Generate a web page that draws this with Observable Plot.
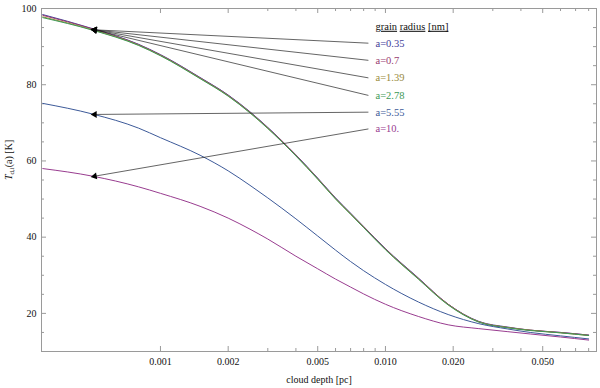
<!DOCTYPE html>
<html>
<head>
<meta charset="utf-8">
<script src="https://cdn.jsdelivr.net/npm/d3@7"></script>
<script src="https://cdn.jsdelivr.net/npm/@observablehq/plot@0.6"></script>
<style>
  html, body { margin: 0; padding: 0; background: #fff; }
  #chart { width: 600px; height: 388px; }
</style>
</head>
<body>
<div id="chart"></div>
<script>
// ---- data ----
const depth = [0.0003, 0.0005, 0.0008, 0.001, 0.0015, 0.002, 0.0025, 0.003, 0.004, 0.005, 0.006, 0.007, 0.008, 0.01, 0.014, 0.019, 0.026, 0.035, 0.044, 0.06, 0.08];
const radii = ["0.35", "0.7", "1.39", "2.78", "5.55", "10."];
const T_035 = [98.4, 94.7, 90.6, 87.9, 81.9, 77.3, 72.9, 68.8, 61.6, 55.5, 50.3, 46.3, 42.8, 37.0, 29.3, 22.4, 17.9, 16.4, 15.6, 15.0, 14.3];
const T_07  = [98.2, 94.6, 90.5, 87.8, 81.8, 77.2, 72.8, 68.7, 61.5, 55.4, 50.2, 46.2, 42.7, 36.9, 29.2, 22.4, 17.8, 16.3, 15.6, 15.0, 14.3];
const T_139 = [97.8, 94.4, 90.4, 87.7, 81.7, 77.1, 72.7, 68.6, 61.4, 55.3, 50.1, 46.1, 42.6, 36.8, 29.1, 22.3, 17.8, 16.3, 15.6, 14.9, 14.2];
const T_278 = [97.6, 94.3, 90.3, 87.6, 81.6, 77.0, 72.6, 68.5, 61.3, 55.2, 50.0, 46.0, 42.5, 36.7, 29.0, 22.2, 17.7, 16.2, 15.5, 14.9, 14.2];
const T_555 = [75.1, 72.3, 68.6, 66.1, 61.5, 57.4, 53.6, 50.3, 44.8, 40.3, 36.6, 33.6, 31.2, 27.6, 23.0, 19.7, 17.3, 15.9, 15.0, 14.1, 13.3];
const T_10  = [58.0, 56.0, 53.2, 51.5, 48.1, 45.0, 42.1, 39.5, 35.0, 31.7, 29.0, 26.9, 25.1, 22.4, 19.2, 17.0, 16.0, 15.2, 14.6, 13.8, 13.0];
const series = [T_035, T_07, T_139, T_278, T_555, T_10];
const colors = ["#3f3d99", "#993d71", "#998b3d", "#3d9956", "#3d5a99", "#993d90"];

// tick values and labels
const xMajor = [0.001, 0.002, 0.005, 0.01, 0.02, 0.05];
const xMajorLabels = ["0.001", "0.002", "0.005", "0.010", "0.020", "0.050"];
const xMinor = [0.003, 0.004, 0.006, 0.007, 0.008, 0.009, 0.03, 0.04, 0.06, 0.07, 0.08];
const yMajor = [20, 40, 60, 80, 100];
const yMajorLabels = ["20", "40", "60", "80", "100"];
const yMinor = [15, 25, 30, 35, 45, 50, 55, 65, 70, 75, 85, 90, 95];

// legend / annotation anchors (data coordinates)
const legendTitle = "grain radius [nm]";
const legendTitleY = 95.3;
const labelX = 0.00903;
const labelY = [90.9, 86.4, 81.8, 77.2, 72.8, 68.4];
const arrowStartX = 0.0084;
const arrowTipX = 0.00051;
const arrowTipY = [94.4, 94.4, 94.4, 94.4, 72.2, 56.0];

const xDomain = [0.000296, 0.0867];
const yDomain = [10, 100];

// ---- build tables ----
const rows = [];
radii.forEach((r, k) => depth.forEach((d, i) => rows.push({depth: d, T: series[k][i], radius: r})));
const legendRows = radii.map((r, k) => ({radius: r, label: "a=" + r, y: labelY[k]}));
const xTickRows = xMajor.map((v, i) => ({v, label: xMajorLabels[i]}));
const yTickRows = yMajor.map((v, i) => ({v, label: yMajorLabels[i]}));

const W = 600, H = 388, mL = 41, mR = 4, mT = 8, mB = 37;
const innerW = W - mL - mR, innerH = H - mT - mB;
// pixel helpers only for the arrowhead orientation
const sx = d3.scaleLog().domain(xDomain).range([mL, W - mR]);
const sy = d3.scaleLinear().domain(yDomain).range([H - mB, mT]);
const arrowRows = radii.map((r, k) => {
  const dx = sx(arrowTipX) - sx(arrowStartX), dy = sy(arrowTipY[k]) - sy(labelY[k]);
  return {x1: arrowStartX, y1: labelY[k], x2: arrowTipX, y2: arrowTipY[k],
          angle: Math.atan2(dy, dx) * 180 / Math.PI + 90};
});

const frameColor = "#9a9a9a";
const textColor = "#111";
const serif = "'Liberation Serif', 'DejaVu Serif', serif";

const plot = Plot.plot({
  width: W, height: H,
  marginLeft: mL, marginRight: mR, marginTop: mT, marginBottom: mB,
  style: {fontSize: "10px", background: "#fff"},
  x: {type: "log", domain: xDomain, axis: null},
  y: {domain: yDomain, axis: null},
  color: {domain: radii, range: colors},
  marks: [
    Plot.frame({stroke: frameColor}),
    // inward ticks: bottom / top
    Plot.ruleX(xMajor, {stroke: frameColor, insetTop: innerH - 5}),
    Plot.ruleX(xMinor, {stroke: frameColor, insetTop: innerH - 3}),
    Plot.ruleX(xMajor, {stroke: frameColor, insetBottom: innerH - 5}),
    Plot.ruleX(xMinor, {stroke: frameColor, insetBottom: innerH - 3}),
    // inward ticks: left / right
    Plot.ruleY(yMajor, {stroke: frameColor, insetRight: innerW - 5}),
    Plot.ruleY(yMinor, {stroke: frameColor, insetRight: innerW - 3}),
    Plot.ruleY(yMajor, {stroke: frameColor, insetLeft: innerW - 5}),
    Plot.ruleY(yMinor, {stroke: frameColor, insetLeft: innerW - 3}),
    // tick labels
    Plot.text(xTickRows, {x: "v", text: "label", frameAnchor: "bottom", lineAnchor: "top", dy: 6, fill: textColor, fontSize: 10}),
    Plot.text(yTickRows, {y: "v", text: "label", frameAnchor: "left", textAnchor: "end", dx: -5, fill: textColor, fontSize: 10}),
    // axis titles
    Plot.text(["cloud depth [pc]"], {text: d => d, frameAnchor: "bottom", lineAnchor: "middle", dy: 28, fill: textColor, fontSize: 10}),
    Plot.text(["Td,i(a) [K]"], {text: d => d, frameAnchor: "left", rotate: -90, lineAnchor: "middle", dx: -33, fill: textColor, fontSize: 10}),
    // data
    Plot.line(rows, {x: "depth", y: "T", z: "radius", stroke: "radius", strokeWidth: 1, curve: "monotone-x"}),
    // annotations
    Plot.link(arrowRows, {x1: "x1", y1: "y1", x2: "x2", y2: "y2", stroke: "#222", strokeWidth: 0.7}),
    Plot.dot(arrowRows, {x: "x2", y: "y2", symbol: "triangle", r: 2.6, fill: "#000", stroke: "none", rotate: "angle"}),
    Plot.text(legendRows, {x: labelX, y: "y", text: "label", fill: "radius", textAnchor: "start", fontSize: 10.5}),
    Plot.text([legendTitle], {x: labelX, y: legendTitleY, text: d => d, textAnchor: "start", fontSize: 10.5, fill: textColor})
  ]
});

document.getElementById("chart").appendChild(plot);

// post-process: serif font, y label with italic T and subscript, underlined legend title words
const svg = d3.select(plot);
svg.style("font-family", serif);
svg.selectAll("g, text").attr("font-family", null).style("font-family", serif);
svg.selectAll("text").each(function() {
  const t = d3.select(this);
  const content = this.textContent;
  if (content === "Td,i(a) [K]") {
    t.text(null);
    t.append("tspan").attr("font-style", "italic").text("T");
    t.append("tspan").attr("font-size", "7px").attr("dy", "0.3em").text("d,i");
    t.append("tspan").attr("dy", "-0.2em").text("(a) [K]");
  } else if (content === legendTitle) {
    t.text(null);
    const words = legendTitle.split(" ");
    words.forEach((w, i) => {
      t.append("tspan").attr("text-decoration", "underline").text(w);
      if (i < words.length - 1) t.append("tspan").text(" ");
    });
  }
});
</script>
</body>
</html>
